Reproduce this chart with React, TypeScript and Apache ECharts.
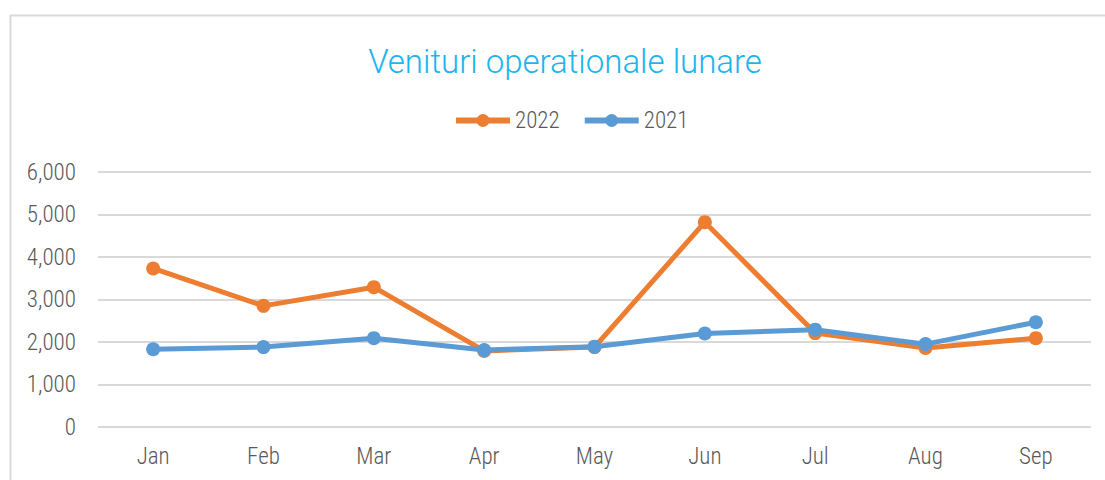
import React, { useEffect, useRef } from "react";
import * as echarts from "echarts";

const months = ["Jan", "Feb", "Mar", "Apr", "May", "Jun", "Jul", "Aug", "Sep"];
const values2022 = [3730, 2850, 3290, 1790, 1880, 4820, 2210, 1860, 2090];
const values2021 = [1830, 1880, 2090, 1810, 1890, 2200, 2290, 1950, 2465];
const titleText = "Venituri operationale lunare";

const FONT = "'Roboto Condensed', Roboto, sans-serif";
const TITLE_FONT = "Roboto, sans-serif";

export default function App() {
  const ref = useRef<HTMLDivElement>(null);
  useEffect(() => {
    if (!ref.current) return;
    const chart = echarts.init(ref.current, undefined, { renderer: "svg" });
    chart.setOption({
      animation: false,
      backgroundColor: "#ffffff",
      title: {
        text: titleText,
        left: 560,
        textAlign: "center",
        top: 40,
        textStyle: { color: "#1CB4EE", fontSize: 33, fontWeight: 300, fontFamily: TITLE_FONT },
      },
      legend: {
        data: ["2022", "2021"],
        top: 104,
        left: 448,
        itemWidth: 54,
        itemHeight: 16,
        itemGap: 22,
        lineStyle: { width: 6 },
        textStyle: { color: "#595959", fontSize: 23, fontWeight: 300, fontFamily: FONT },
      },
      graphic: [
        {
          type: "rect",
          shape: { x: 10.5, y: 15.5, width: 1110, height: 480 },
          style: { fill: "none", stroke: "#D9D9D9", lineWidth: 2 },
          silent: true,
        },
      ],
      grid: { left: 98, right: 14, top: 172, bottom: 53 },
      xAxis: {
        type: "category",
        data: months,
        axisLine: { show: false },
        axisTick: { show: false },
        axisLabel: { color: "#595959", fontSize: 23, fontWeight: 300, fontFamily: FONT, margin: 18 },
      },
      yAxis: {
        type: "value",
        min: 0,
        max: 6000,
        interval: 1000,
        axisLine: { show: false },
        axisTick: { show: false },
        splitLine: { lineStyle: { color: "#D9D9D9", width: 2 } },
        axisLabel: {
          color: "#595959",
          fontSize: 23,
          fontWeight: 300,
          fontFamily: FONT,
          margin: 22,
          formatter: (v: number) => v.toLocaleString("en-US"),
        },
      },
      series: [
        {
          name: "2022",
          type: "line",
          data: values2022,
          color: "#ED7D31",
          lineStyle: { width: 5, color: "#ED7D31" },
          symbol: "circle",
          symbolSize: 14,
          itemStyle: { color: "#ED7D31" },
          z: 2,
        },
        {
          name: "2021",
          type: "line",
          data: values2021,
          color: "#5B9BD5",
          lineStyle: { width: 5, color: "#5B9BD5" },
          symbol: "circle",
          symbolSize: 14,
          itemStyle: { color: "#5B9BD5" },
          z: 3,
        },
      ],
    });
    return () => chart.dispose();
  }, []);
  return (
    <div
      ref={ref}
      style={{ position: "absolute", left: 0, top: 0, width: 1105, height: 480 }}
    />
  );
}
